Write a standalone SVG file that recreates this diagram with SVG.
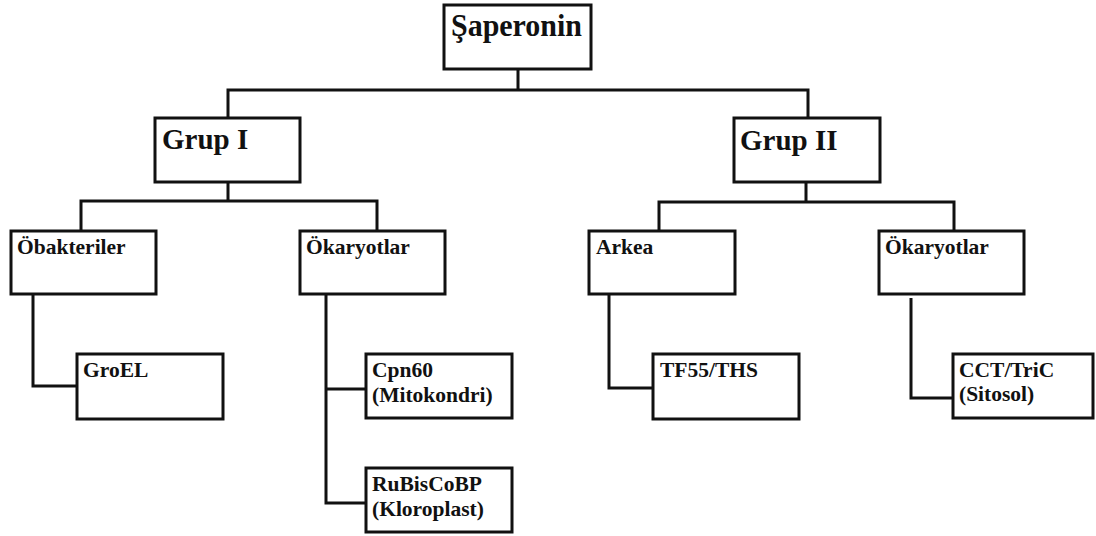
<svg xmlns="http://www.w3.org/2000/svg" width="1096" height="536" viewBox="0 0 1096 536">
<style>
.box{fill:#fff;stroke:#111;stroke-width:3}
.conn{fill:none;stroke:#111;stroke-width:3;stroke-linejoin:miter}
text{font-family:"Liberation Serif","Times New Roman",serif;font-weight:bold;fill:#111}
.t1{font-size:31px}
.t2{font-size:29px}
.t3{font-size:21.5px}
</style>
<rect width="1096" height="536" fill="#fff"/>
<g id="connectors">
<path class="conn" d="M518,69 V90 M228,118 V90 H808 V118"/>
<path class="conn" d="M228,182 V201 M81,231 V201 H377 V231"/>
<path class="conn" d="M806,182 V202 M659,231 V202 H954 V231"/>
<path class="conn" d="M33,294 V386 H77"/>
<path class="conn" d="M326,294 V503 H366 M326,389 H366"/>
<path class="conn" d="M609,294 V388 H653"/>
<path class="conn" d="M911,298 V398 H953"/>
</g>
<g id="saperonin"><rect class="box" x="444" y="5" width="147" height="64"/><text class="t1" x="451" y="36" textLength="131" lengthAdjust="spacingAndGlyphs">Şaperonin</text></g>
<g id="grup1"><rect class="box" x="155" y="118" width="145" height="64"/><text class="t2" x="162" y="149">Grup I</text></g>
<g id="grup2"><rect class="box" x="734" y="118" width="146" height="64"/><text class="t2" x="740" y="150">Grup II</text></g>
<g id="obakteriler"><rect class="box" x="11" y="231" width="145" height="63"/><text class="t3" x="17" y="254">Öbakteriler</text></g>
<g id="okaryotlar1"><rect class="box" x="300" y="231" width="145" height="63"/><text class="t3" x="306" y="254">Ökaryotlar</text></g>
<g id="arkea"><rect class="box" x="589" y="231" width="146" height="63"/><text class="t3" x="596" y="254">Arkea</text></g>
<g id="okaryotlar2"><rect class="box" x="879" y="231" width="145" height="63"/><text class="t3" x="885" y="254">Ökaryotlar</text></g>
<g id="groel"><rect class="box" x="77" y="354" width="146" height="65"/><text class="t3" x="83" y="377">GroEL</text></g>
<g id="cpn60"><rect class="box" x="366" y="354" width="146" height="64"/><text class="t3" x="372" y="377">Cpn60</text><text class="t3" x="372" y="402">(Mitokondri)</text></g>
<g id="rubiscobp"><rect class="box" x="366" y="468" width="146" height="64"/><text class="t3" x="372" y="491">RuBisCoBP</text><text class="t3" x="372" y="516">(Kloroplast)</text></g>
<g id="tf55"><rect class="box" x="653" y="354" width="146" height="65"/><text class="t3" x="660" y="377">TF55/THS</text></g>
<g id="cct"><rect class="box" x="953" y="354" width="140" height="64"/><text class="t3" x="959" y="377">CCT/TriC</text><text class="t3" x="959" y="401">(Sitosol)</text></g>
</svg>
